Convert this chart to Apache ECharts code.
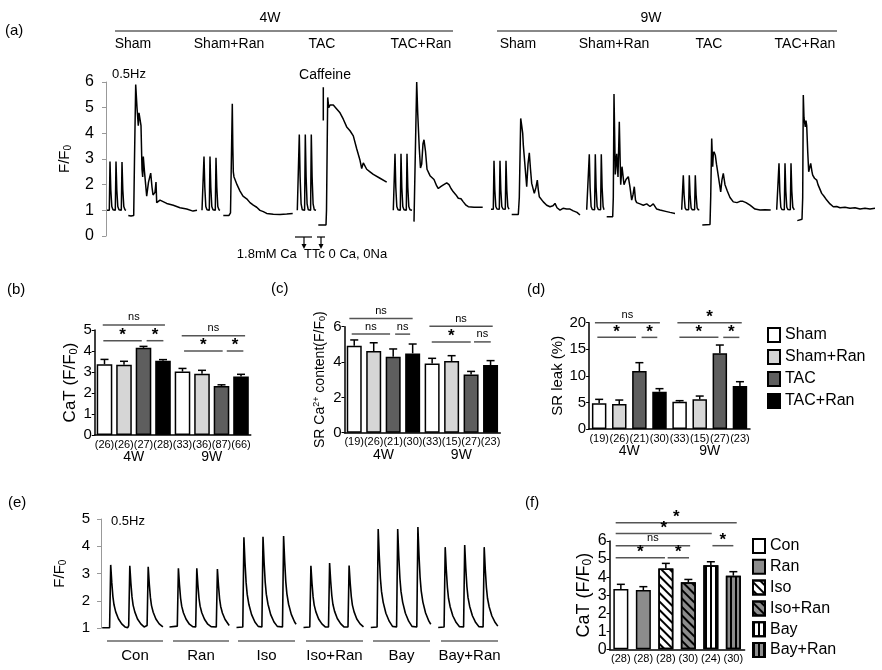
<!DOCTYPE html>
<html>
<head>
<meta charset="utf-8">
<script src="https://cdn.jsdelivr.net/npm/echarts/dist/echarts.min.js"></script>
<style>
  html, body { margin: 0; padding: 0; background: #fff; }
  #chart { width: 882px; height: 670px; }
</style>
</head>
<body>
<div id="chart"></div>
<script>
const FONT = '"Liberation Sans", Arial, sans-serif';

// ---------- (a) line-scan Ca traces, [time, F/F0] ----------
const sham4Pace = [[107,1.0],[109.3,1.0],[110,2.9],[110.8,1.8],[111.8,1.15],[113,1.02],[115.3,1.0],[116,2.9],[116.8,1.8],[117.8,1.15],[119,1.02],[121.3,1.0],[122,2.88],[122.8,1.8],[123.8,1.15],[125,1.02],[126,1.0]];
const sham4Caf = [[128.3,0.8],[131,0.78],[133.7,0.8],[134.5,3],[135.7,5.9],[137,5.0],[138.3,4.3],[139,4.8],[140.3,4.75],[141,4.3],[142,2.6],[142.7,2.3],[143.3,3.1],[144.5,2.5],[146.7,1.55],[148.5,2.1],[150.7,2.45],[152,1.9],[153,1.6],[155,1.7],[156,2.1],[156.7,1.3],[160,1.4],[166.7,1.27],[173.3,1.2],[180,1.1],[186.7,1.05],[193,0.97],[197,1.0]];
const shamRan4Pace = [[202,1.0],[203.3,1.0],[204,3.1],[204.8,1.9],[205.8,1.15],[207,1.02],[209.3,1.0],[210,3.1],[210.8,1.9],[211.8,1.15],[213,1.02],[215.3,1.0],[216,3.05],[216.8,1.9],[217.8,1.15],[219,1.02],[220,1.0]];
const shamRan4Caf = [[223.3,0.8],[229,0.8],[230.5,0.9],[232.3,5.15],[232.8,3.5],[233.3,2.5],[234,2.3],[235,2.2],[237,2.0],[240,1.75],[243,1.55],[246.7,1.45],[250,1.3],[253.3,1.2],[256.7,1.12],[260,1.0],[263.3,0.95],[266.7,0.88],[273.3,0.85],[280,0.84],[286.7,0.86],[292.7,0.88]];
const tac4Pace = [[297.3,1.0],[298.6,1.0],[299.3,3.95],[300.1,2.3],[301.1,1.25],[302.3,1.02],[304.6,1.0],[305.3,3.95],[306.1,2.3],[307.1,1.25],[308.3,1.02],[310.6,1.0],[311.3,3.95],[312.1,2.3],[313.1,1.25],[314.3,1.02],[316,1.0]];
const tac4Caf = [[318.3,0.43],[326,0.43],[326.5,1.0],[327.7,5.4],[328.7,5.0],[330,5.1],[333.3,5.1],[336.7,4.95],[340,4.8],[343.3,4.55],[346.7,4.25],[350,4.1],[353.3,3.9],[356.7,3.4],[360,2.95],[361.7,2.63],[363.3,2.85],[366.7,2.6],[370,2.5],[373.3,2.4],[380,2.25],[386.7,2.1]];
const tac4Art = [[323.3,4.5],[323.3,5.8]];
const tacRan4Pace = [[393.3,1.0],[394.3,1.0],[395,3.2],[395.8,1.9],[396.8,1.15],[398,1.02],[400.3,1.0],[401,3.2],[401.8,1.9],[402.8,1.15],[404,1.02],[406.3,1.0],[407,3.2],[407.8,1.9],[408.8,1.15],[410,1.02],[412,1.0]];
const tacRan4Caf = [[414,0.56],[415.7,0.62],[416.7,6.0],[417.7,4.8],[419.3,3.4],[420.5,2.65],[421.7,2.8],[423,3.6],[424,3.75],[425.5,3.3],[427,2.6],[428.3,2.55],[430,2.35],[431.7,2.3],[434,2.2],[436.7,1.95],[438.3,1.85],[440.7,1.92],[443,1.98],[446.7,2.07],[449,2.0],[451,1.85],[453.3,1.72],[456,1.6],[458.3,1.47],[461,1.45],[463.3,1.33],[466,1.2],[468.3,1.14],[474,1.12],[482.7,1.12]];
const sham9Pace = [[491,1.04],[493.3,1.04],[494,2.93],[494.8,1.8],[495.8,1.15],[497,1.05],[499.3,1.04],[500,2.93],[500.8,1.8],[501.8,1.15],[503,1.05],[505.3,1.04],[506,2.93],[506.8,1.8],[507.8,1.15],[509,1.04]];
const sham9Caf = [[511.7,0.84],[518.3,0.84],[519.3,1.5],[520.7,4.58],[521.7,4.3],[522.7,4.0],[523.3,3.55],[524.5,3.5],[525.7,2.4],[526.7,1.92],[528,2.8],[529.3,3.24],[530.5,2.6],[531.7,2.05],[534.3,1.66],[536,1.9],[537.3,2.18],[538.3,1.8],[539.3,1.53],[543.3,1.33],[546.7,1.2],[550,1.14],[553,1.18],[555,1.27],[557,1.1],[560,1.01],[563,1.08],[566.7,1.05],[570,1.05],[573.3,0.98],[577,0.92],[580,0.82]];
const shamRan9Pace = [[586.7,1.02],[588.6,1.02],[589.3,3.18],[590.1,1.9],[591.1,1.15],[592.3,1.03],[594.6,1.02],[595.3,3.18],[596.1,1.9],[597.1,1.15],[598.3,1.03],[600.6,1.02],[601.3,3.18],[602.1,1.9],[603.1,1.15],[604,1.02]];
const shamRan9Caf = [[606.7,0.75],[612.7,0.75],[613.3,1.5],[614,5.53],[615.3,2.4],[616.7,3.2],[618,2.3],[619.3,4.45],[620.7,2.0],[622,2.7],[624,2.0],[626,2.2],[628.3,2.31],[630,1.9],[631.7,1.4],[633,1.6],[634.3,1.92],[635.5,1.4],[636.7,1.3],[640,1.25],[643.3,1.2],[646.7,1.25],[650,1.15],[653.3,1.25],[656.7,1.05],[660,1.01],[666.7,0.95],[670,0.92],[675,0.88]];
const tac9Pace = [[681.7,1.02],[682.6,1.02],[683.3,2.37],[684.1,1.6],[685.1,1.1],[686.3,1.02],[688.6,1.02],[689.3,2.37],[690.1,1.6],[691.1,1.1],[692.3,1.02],[694.6,1.02],[695.3,2.37],[696.1,1.6],[697.1,1.1],[698.3,1.02],[699.3,1.02]];
const tac9Caf = [[702.3,0.43],[710,0.45],[710.7,1.5],[711.7,3.8],[712.7,2.7],[713.3,3.2],[714,3.28],[715.3,3.15],[716.5,2.8],[717.3,2.6],[718.3,2.57],[720,1.9],[720.7,1.72],[722,2.2],[723.3,2.44],[725,2.0],[727.3,1.75],[730,1.5],[733.3,1.33],[737,1.3],[740,1.35],[743,1.35],[746,1.3],[750,1.2],[755,1.05],[760,1.01],[765,1.02],[770.7,1.01]];
const tacRan9Pace = [[776.7,1.02],[778.3,1.02],[779,2.83],[779.8,1.75],[780.8,1.12],[782,1.03],[784.3,1.02],[785,2.83],[785.8,1.75],[786.8,1.12],[788,1.03],[790.3,1.02],[791,2.83],[791.8,1.75],[792.8,1.12],[794.3,1.02]];
const tacRan9Caf = [[797.3,0.6],[802,0.65],[802.7,1.5],[803.3,5.49],[804,4.6],[805.3,4.25],[806,4.5],[806.7,4.3],[807.7,3.3],[808.7,2.5],[810.7,2.83],[812,2.5],[812.7,2.37],[814.5,2.25],[816.7,2.18],[818,2.0],[821.7,1.66],[824,1.55],[826.7,1.4],[830,1.25],[833.3,1.14],[836.7,1.15],[840,1.1],[845,1.12],[850,1.08],[855,1.1],[860,1.05],[865,1.08],[870,1.05],[875,1.08]];
const aTraces = [sham4Pace, sham4Caf, shamRan4Pace, shamRan4Caf, tac4Pace, tac4Caf, tac4Art, tacRan4Pace, tacRan4Caf,
                 sham9Pace, sham9Caf, shamRan9Pace, shamRan9Caf, tac9Pace, tac9Caf, tacRan9Pace, tacRan9Caf];

// ---------- (b)(c)(d) group bars: 4W Sham, Sham+Ran, TAC, TAC+Ran, then 9W ----------
const groups = ['Sham', 'Sham+Ran', 'TAC', 'TAC+Ran'];
const weeks = ['4W', '9W'];

const bN = ['(26)', '(26)', '(27)', '(28)', '(33)', '(36)', '(87)', '(66)'];
const bMean = [3.37, 3.35, 4.15, 3.54, 3.02, 2.92, 2.33, 2.78];
const bSem = [0.23, 0.16, 0.07, 0.05, 0.15, 0.16, 0.06, 0.11];
const bSig = [[-0.09, 3.1, 5.24, 'ns'], [-0.06, 1.91, 4.49, '*'], [2.16, 3.02, 4.49, '*'],
              [3.96, 7.21, 4.73, 'ns'], [4.08, 6.06, 4.0, '*'], [6.27, 7.12, 4.0, '*']];

const cN = ['(19)', '(26)', '(21)', '(30)', '(33)', '(15)', '(27)', '(23)'];
const cMean = [4.92, 4.62, 4.3, 4.49, 3.92, 4.06, 3.3, 3.83];
const cSem = [0.33, 0.47, 0.44, 0.53, 0.29, 0.3, 0.17, 0.25];
const cSig = [[-0.25, 3.0, 6.46, 'ns'], [-0.13, 1.84, 5.58, 'ns'], [2.1, 2.87, 5.58, 'ns'],
              [3.86, 7.11, 6.03, 'ns'], [3.98, 5.98, 5.14, '*'], [6.15, 7.01, 5.14, 'ns']];

const dN = ['(19)', '(26)', '(21)', '(30)', '(33)', '(15)', '(27)', '(23)'];
const dMean = [4.83, 4.7, 10.9, 7.02, 5.14, 5.58, 14.23, 8.09];
const dSem = [0.75, 0.75, 1.58, 0.57, 0.19, 0.62, 1.57, 0.81];
const dSig = [[-0.21, 3.02, 20, 'ns'], [-0.09, 1.83, 17.24, '*'], [2.11, 2.89, 17.24, '*'],
              [3.89, 7.09, 20, '*'], [3.99, 5.93, 17.24, '*'], [6.17, 6.97, 17.24, '*']];

// ---------- (e) 0.5 Hz transients ----------
const eCon = [[102.2,1.02],[109.6,1.02],[110.7,3.32],[111.8,2.67],[112.9,2.16],[114,1.86],[115.7,1.6],[118.4,1.35],[121.7,1.16],[125,1.05],[127.7,1.02],[128.7,1.1],[129.8,3.29],[130.9,2.65],[132,2.15],[133.1,1.85],[134.8,1.6],[137.5,1.34],[140.8,1.16],[144.1,1.05],[146.1,1.02],[147.1,1.1],[148.2,3.25],[149.3,2.62],[150.4,2.13],[151.5,1.83],[153.2,1.59],[155.9,1.34],[159.2,1.16],[162.9,1.05]];
const eRan = [[169.5,1.05],[177.3,1.08],[178.4,3.2],[179.5,2.58],[180.6,2.1],[181.7,1.81],[183.4,1.57],[186.1,1.33],[189.4,1.15],[192.7,1.06],[195.7,1.05],[196.8,3.2],[197.9,2.58],[199,2.1],[200.1,1.81],[201.8,1.57],[204.5,1.33],[207.8,1.15],[211.1,1.06],[216.3,1.05],[217.4,3.17],[218.5,2.56],[219.6,2.08],[220.7,1.8],[222.4,1.56],[225.1,1.32],[229.2,1.1]];
const eIso = [[236.5,1.03],[242.8,1.05],[243.9,4.33],[245,3.41],[246.1,2.68],[247.2,2.24],[248.9,1.87],[251.6,1.5],[254.9,1.23],[258.2,1.07],[261.9,1.05],[263,4.35],[264.1,3.42],[265.2,2.69],[266.3,2.25],[268,1.88],[270.7,1.5],[274,1.23],[277.3,1.07],[282.5,1.05],[283.6,4.38],[284.7,3.44],[285.8,2.7],[286.9,2.26],[288.6,1.88],[291.3,1.51],[294.6,1.23],[296.1,1.15]];
const eIsoRan = [[303.5,1.03],[309.8,1.05],[310.9,3.29],[312,2.65],[313.1,2.15],[314.2,1.85],[315.9,1.6],[318.6,1.34],[321.9,1.16],[325.2,1.05],[328.5,1.05],[329.6,3.39],[330.7,2.72],[331.8,2.2],[332.9,1.88],[334.6,1.62],[337.3,1.36],[340.6,1.17],[343.9,1.05],[348,1.05],[349.1,3.3],[350.2,2.66],[351.3,2.16],[352.4,1.85],[354.1,1.6],[356.8,1.34],[360.1,1.16],[363.5,1.05]];
const eBay = [[370.8,1.03],[377.1,1.05],[378.2,4.63],[379.3,3.63],[380.4,2.83],[381.5,2.35],[383.2,1.95],[385.9,1.55],[389.2,1.26],[392.5,1.07],[396.6,1.05],[397.7,4.63],[398.8,3.63],[399.9,2.83],[401,2.35],[402.7,1.95],[405.4,1.55],[408.7,1.26],[412,1.07],[416.8,1.05],[417.9,4.71],[419,3.67],[420.1,2.86],[421.2,2.37],[422.9,1.96],[425.6,1.56],[428.9,1.26],[430.8,1.15]];
const eBayRan = [[438.2,1.03],[444.1,1.05],[445.2,3.97],[446.3,3.14],[447.4,2.5],[448.5,2.1],[450.2,1.78],[452.9,1.45],[456.2,1.21],[459.5,1.06],[463.6,1.05],[464.7,4.05],[465.8,3.2],[466.9,2.53],[468,2.13],[469.7,1.8],[472.4,1.46],[475.7,1.21],[479,1.06],[483.1,1.05],[484.2,3.97],[485.3,3.14],[486.4,2.5],[487.5,2.1],[489.2,1.78],[491.9,1.45],[495.2,1.21],[497.8,1.08]];
const eTraces = [eCon, eRan, eIso, eIsoRan, eBay, eBayRan];
const eLabels = ['Con', 'Ran', 'Iso', 'Iso+Ran', 'Bay', 'Bay+Ran'];

// ---------- (f) ----------
const fNames = ['Con', 'Ran', 'Iso', 'Iso+Ran', 'Bay', 'Bay+Ran'];
const fN = ['(28)', '(28)', '(28)', '(30)', '(24)', '(30)'];
const fMean = [3.34, 3.28, 4.48, 3.71, 4.65, 4.08];
const fSem = [0.26, 0.19, 0.28, 0.16, 0.2, 0.22];
const fSig = [[-0.23, 5.15, 7.01, '*'], [-0.23, 4.04, 6.42, '*'], [-0.23, 3.08, 5.74, 'ns'],
              [-0.23, 1.96, 5.07, '*'], [2.08, 3.03, 5.07, '*'], [4.07, 5.0, 5.74, '*']];

// ---------- helpers ----------
const grids = [
  { left: 106, top: 82, width: 770, height: 154 },     // a
  { left: 94.75, top: 330, width: 156, height: 105 },  // b
  { left: 344.5, top: 326.7, width: 155.8, height: 106 }, // c
  { left: 589.1, top: 322.7, width: 160.9, height: 106.3 }, // d
  { left: 101, top: 519, width: 399, height: 109.3 },  // e
  { left: 609.6, top: 541, width: 135, height: 108.3 } // f
];
const xAxes = [], yAxes = [], series = [];

function richName(size) {
  return {
    color: '#000', fontFamily: FONT, fontSize: size,
    rich: {
      n: { fontSize: size, fontFamily: FONT, color: '#000' },
      s: { fontSize: Math.round(size * 0.65), fontFamily: FONT, color: '#000', padding: [Math.round(size * 0.45), 0, 0, 0] },
      p: { fontSize: Math.round(size * 0.65), fontFamily: FONT, color: '#000', padding: [0, 0, Math.round(size * 0.45), 0] }
    }
  };
}

function renderErr(params, api) {
  const x = api.value(0), m = api.value(1), e = api.value(2);
  const a = api.coord([x, m]), b = api.coord([x, m + e]);
  const st = { stroke: '#000', lineWidth: 1.5 };
  return { type: 'group', children: [
    { type: 'line', shape: { x1: a[0], y1: a[1], x2: b[0], y2: b[1] }, style: st },
    { type: 'line', shape: { x1: b[0] - 4, y1: b[1], x2: b[0] + 4, y2: b[1] }, style: st }
  ] };
}

function renderSig(params, api, txt) {
  const y = api.value(2);
  const a = api.coord([api.value(0), y]), b = api.coord([api.value(1), y]);
  const star = txt === '*';
  return { type: 'group', children: [
    { type: 'line', shape: { x1: a[0], y1: a[1], x2: b[0], y2: b[1] }, style: { stroke: '#555', lineWidth: 1.5 } },
    { type: 'text', x: (a[0] + b[0]) / 2, y: a[1] + (star ? 3 : -2),
      style: { text: txt, textAlign: 'center', textVerticalAlign: 'bottom', fill: '#000',
               font: star ? 'bold 17px ' + FONT : '11px ' + FONT } }
  ] };
}

function barPanel(p) {
  const k = p.names.length;
  const r = p.ratio;
  const xc = xAxes.length;
  xAxes.push({ gridIndex: p.grid, type: 'category', position: 'bottom', data: p.cats,
    axisLine: { show: false, onZero: false }, axisTick: { show: false },
    axisLabel: { margin: 15, fontSize: 14, color: '#000', fontFamily: FONT } });
  xAxes.push({ gridIndex: p.grid, type: 'category', position: 'bottom', data: p.n,
    axisLine: { onZero: false, lineStyle: { color: '#000', width: 1.5 } },
    axisTick: { alignWithLabel: true, length: 3, lineStyle: { color: '#000' } },
    axisLabel: { interval: 0, margin: 4, fontSize: 11, color: '#000', fontFamily: FONT } });
  xAxes.push({ gridIndex: p.grid, type: 'value', position: 'top', min: -0.5, max: p.n.length - 0.5, show: false });
  const yi = yAxes.length;
  yAxes.push({ gridIndex: p.grid, type: 'value', min: 0, max: p.yMax, interval: p.yInt,
    axisLine: { show: true, onZero: false, lineStyle: { color: '#000', width: 1.5 } },
    axisTick: { show: true, length: 3, lineStyle: { color: '#000' } },
    splitLine: { show: false },
    axisLabel: { fontSize: p.tickSize, color: '#000', margin: 3, fontFamily: FONT },
    name: p.yName, nameLocation: 'middle', nameRotate: 90, nameGap: p.nameGap, nameTextStyle: richName(p.nameSize) });
  p.names.forEach((nm, s) => {
    const style = { color: p.colors[s], borderColor: '#000', borderWidth: 1.5 };
    if (p.decals && p.decals[s]) style.decal = p.decals[s];
    series.push({ type: 'bar', name: nm, xAxisIndex: xc, yAxisIndex: yi,
      data: p.cats.map((c, g) => p.mean[g * k + s]),
      barGap: ((1 - r) / r * 100) + '%', barCategoryGap: ((1 - r) / k * 100) + '%',
      itemStyle: style, silent: true });
  });
  series.push({ type: 'custom', xAxisIndex: xc + 2, yAxisIndex: yi, clip: false, z: 3, silent: true,
    renderItem: renderErr, encode: { x: 0, y: 1 },
    data: p.mean.map((m, i) => [i, m, p.sem[i]]) });
  series.push({ type: 'custom', xAxisIndex: xc + 2, yAxisIndex: yi, clip: false, z: 3, silent: true,
    renderItem: (params, api) => renderSig(params, api, p.sig[params.dataIndex][3]), encode: { x: [0, 1], y: 2 },
    data: p.sig.map(s => s.slice(0, 3)) });
}

// ---------- (a) ----------
xAxes.push({ gridIndex: 0, type: 'value', min: 106, max: 876, show: false });
yAxes.push({ gridIndex: 0, type: 'value', min: 0, max: 6, interval: 1,
  axisLine: { show: true, onZero: false, lineStyle: { color: '#999', width: 1 } },
  axisTick: { show: true, length: 4, lineStyle: { color: '#999' } },
  splitLine: { show: false },
  axisLabel: { fontSize: 16, color: '#000', margin: 12, fontFamily: FONT },
  name: '{n|F/F}{s|0}', nameLocation: 'middle', nameRotate: 90, nameGap: 33, nameTextStyle: richName(15) });
aTraces.forEach(tr => series.push({ type: 'line', xAxisIndex: 0, yAxisIndex: 0, data: tr, symbol: 'none',
  lineStyle: { color: '#000', width: 1.5 }, silent: true }));

const groupColors = ['#ffffff', '#d6d6d6', '#5e5e5e', '#000000'];
barPanel({ grid: 1, cats: weeks, n: bN, mean: bMean, sem: bSem, sig: bSig, names: groups, colors: groupColors,
  ratio: 0.8, yMax: 5, yInt: 1, tickSize: 15, yName: '{n|CaT (F/F}{s|0}{n|)}', nameGap: 14, nameSize: 17 });
barPanel({ grid: 2, cats: weeks, n: cN, mean: cMean, sem: cSem, sig: cSig, names: groups, colors: groupColors,
  ratio: 0.77, yMax: 6, yInt: 2, tickSize: 15, yName: '{n|SR Ca}{p|2+}{n| content(F/F}{s|0}{n|)}', nameGap: 17, nameSize: 14 });
barPanel({ grid: 3, cats: weeks, n: dN, mean: dMean, sem: dSem, sig: dSig, names: groups, colors: groupColors,
  ratio: 0.72, yMax: 20, yInt: 5, tickSize: 15, yName: '{n|SR leak (%)}', nameGap: 24, nameSize: 15 });

// ---------- (e) ----------
const ex = xAxes.length;
xAxes.push({ gridIndex: 4, type: 'value', min: 101, max: 500, show: false });
const ey = yAxes.length;
yAxes.push({ gridIndex: 4, type: 'value', min: 1, max: 5, interval: 1,
  axisLine: { show: true, onZero: false, lineStyle: { color: '#999', width: 1 } },
  axisTick: { show: true, length: 4, lineStyle: { color: '#999' } },
  splitLine: { show: false },
  axisLabel: { fontSize: 15, color: '#000', margin: 11, fontFamily: FONT },
  name: '{n|F/F}{s|0}', nameLocation: 'middle', nameRotate: 90, nameGap: 33, nameTextStyle: richName(15) });
eTraces.forEach(tr => series.push({ type: 'line', xAxisIndex: ex, yAxisIndex: ey, data: tr, symbol: 'none',
  lineStyle: { color: '#000', width: 1.6 }, silent: true }));

// ---------- (f) ----------
const diag = { symbol: 'rect', symbolSize: 1, dashArrayX: [1, 0], dashArrayY: [1.5, 3.5], rotation: Math.PI / 4, color: '#000' };
const vert = { symbol: 'rect', symbolSize: 1, dashArrayX: [1.5, 2.5], dashArrayY: [1, 0], rotation: 0, color: '#000' };
barPanel({ grid: 5, cats: [''], n: fN, mean: fMean, sem: fSem, sig: fSig, names: fNames,
  colors: ['#ffffff', '#8c8c8c', '#ffffff', '#8c8c8c', '#ffffff', '#8c8c8c'],
  decals: [null, null, diag, diag, vert, vert],
  ratio: 0.667, yMax: 6, yInt: 1, tickSize: 16, yName: '{n|CaT (F/F}{s|0}{n|)}', nameGap: 15, nameSize: 18 });

// ---------- annotations ----------
const T = (text, x, y, size, align, extra) => Object.assign({ type: 'text', x: x, y: y, silent: true,
  style: { text: text, font: size + 'px ' + FONT, fill: '#000', textAlign: align || 'center', textVerticalAlign: 'middle' } }, extra || {});
const L = (x1, y1, x2, y2, color, w) => ({ type: 'line', silent: true, shape: { x1, y1, x2, y2 }, style: { stroke: color, lineWidth: w } });

const graphic = [
  T('(a)', 5, 31, 15, 'left'), T('(b)', 7, 290, 15, 'left'), T('(c)', 271, 289, 15, 'left'),
  T('(d)', 527, 290, 15, 'left'), T('(e)', 8, 503, 15, 'left'), T('(f)', 525, 503, 15, 'left'),
  T('4W', 270, 18, 14), T('9W', 651, 18, 14),
  L(115, 31, 453, 31, '#888', 2), L(497, 31, 837, 31, '#888', 2),
  T('Sham', 133, 44, 14), T('Sham+Ran', 229, 44, 14), T('TAC', 322, 44, 14), T('TAC+Ran', 421, 44, 14),
  T('Sham', 518, 44, 14), T('Sham+Ran', 614, 44, 14), T('TAC', 709, 44, 14), T('TAC+Ran', 805, 44, 14),
  T('0.5Hz', 112, 74, 13, 'left'), T('Caffeine', 325, 75, 14),
  L(295, 237, 312, 237, '#000', 1.2), L(304, 237, 304, 245, '#000', 1.2),
  L(317, 237, 325, 237, '#000', 1.2), L(321, 237, 321, 245, '#000', 1.2),
  { type: 'polygon', silent: true, shape: { points: [[301.5, 244], [306.5, 244], [304, 249]] }, style: { fill: '#000' } },
  { type: 'polygon', silent: true, shape: { points: [[318.5, 244], [323.5, 244], [321, 249]] }, style: { fill: '#000' } },
  T('1.8mM Ca  TTc 0 Ca, 0Na', 312, 254, 13),
  T('0.5Hz', 111, 521, 13, 'left')
];
const eLines = [[107, 163], [173, 229], [238, 295], [306, 363], [373, 430], [441, 498]];
eLines.forEach((s, i) => {
  graphic.push(L(s[0], 641, s[1], 641, '#666', 1.5));
  graphic.push(T(eLabels[i], (s[0] + s[1]) / 2, 656, 15));
});

const chart = echarts.init(document.getElementById('chart'), null, { renderer: 'canvas' });
chart.setOption({
  animation: false,
  backgroundColor: '#fff',
  textStyle: { fontFamily: FONT },
  grid: grids,
  xAxis: xAxes,
  yAxis: yAxes,
  legend: [
    { data: groups, orient: 'vertical', left: 762, top: 322, itemWidth: 12, itemHeight: 14, itemGap: 6,
      selectedMode: false, icon: 'rect', textStyle: { fontSize: 16, color: '#000', fontFamily: FONT, lineHeight: 14 } },
    { data: fNames, orient: 'vertical', left: 747, top: 533, itemWidth: 12, itemHeight: 14, itemGap: 4.8,
      selectedMode: false, icon: 'rect', textStyle: { fontSize: 16, color: '#000', fontFamily: FONT, lineHeight: 14 } }
  ],
  graphic: graphic,
  series: series
});
</script>
</body>
</html>
